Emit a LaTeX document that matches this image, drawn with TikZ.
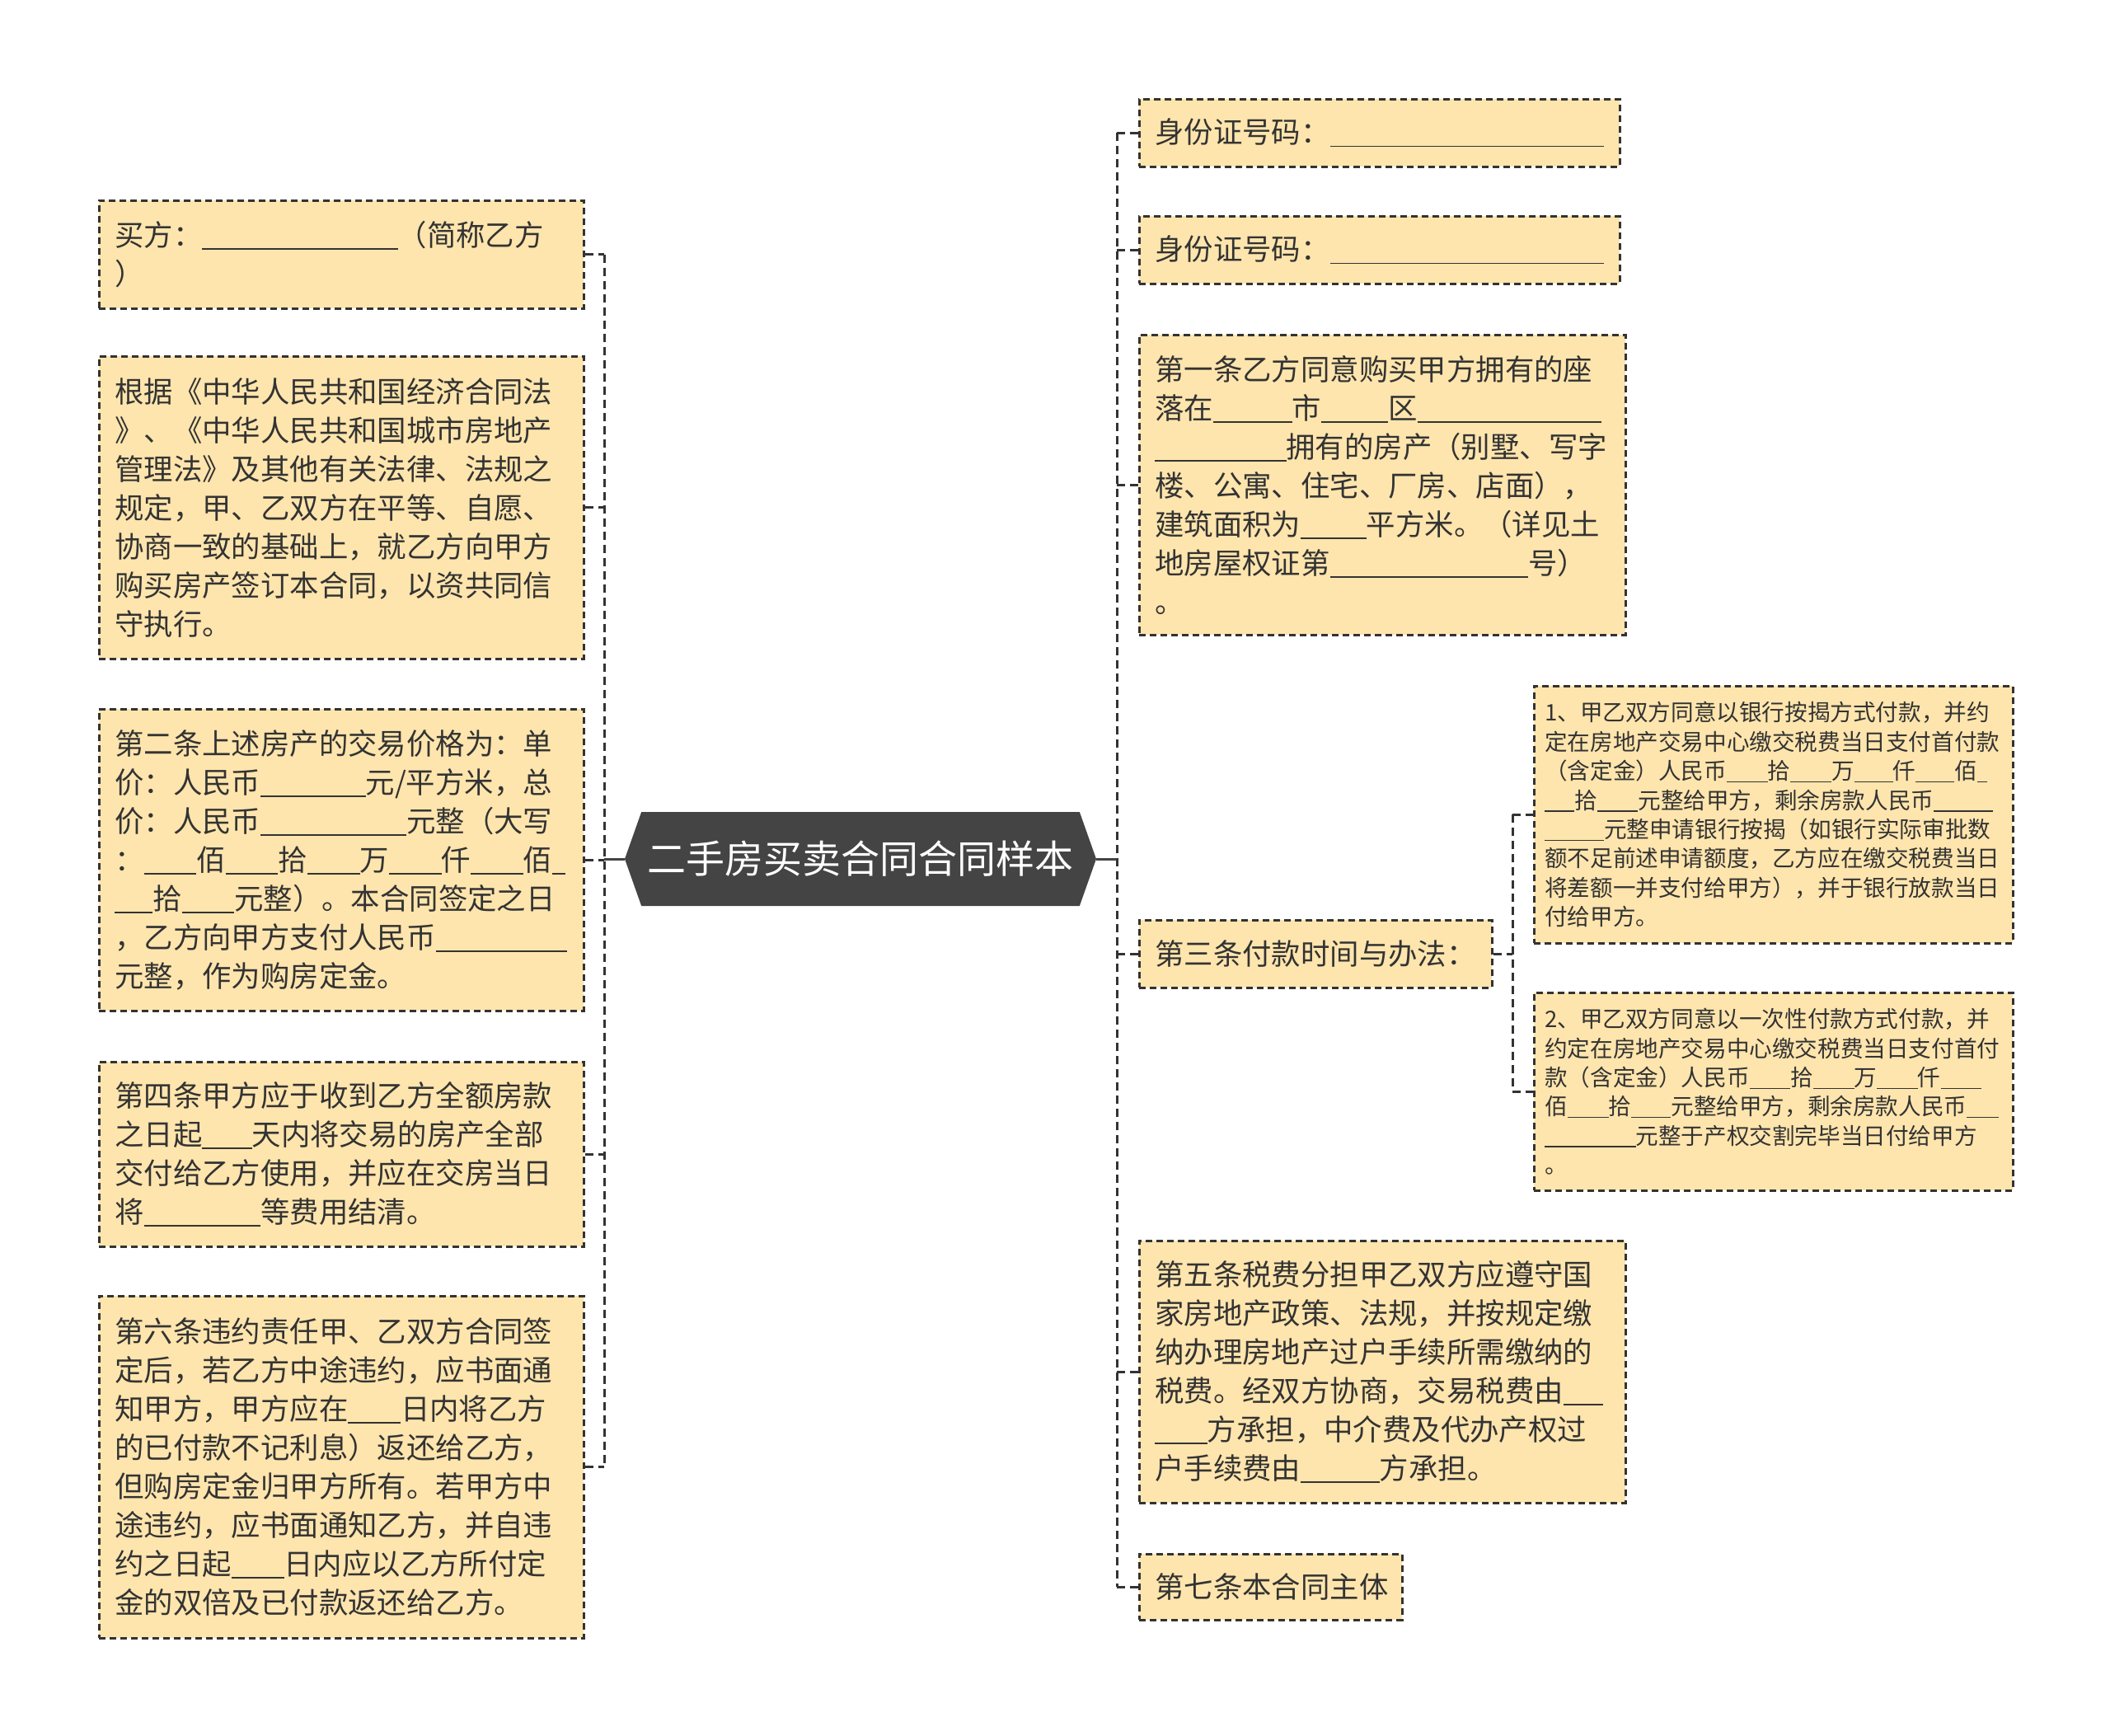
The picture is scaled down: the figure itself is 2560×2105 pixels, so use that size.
\documentclass[tikz,border=0pt]{standalone}
\usepackage{fontspec}
\setmainfont{Noto Sans CJK SC}
\usepackage{tikz}
\usetikzlibrary{shapes.symbols}
\definecolor{boxfill}{RGB}{254,229,173}
\definecolor{inkgray}{RGB}{51,51,51}
\definecolor{hubgray}{RGB}{68,68,68}
\newcommand{\blank}[1]{\rule[-0.13em]{#1em}{0.055em}}

\begin{document}
\begin{tikzpicture}[x=1pt, y=-1pt,
		notebox/.style={draw=inkgray, line width=2.5pt, dash pattern=on 8pt off 5pt, fill=boxfill, text=inkgray, align=left, anchor=north west, inner xsep=19pt, inner ysep=0pt, font=\fontsize{35.4}{47}\selectfont},
		subbox/.style={notebox, inner xsep=13pt, text width=555pt, font=\fontsize{27.6}{35.4}\selectfont},
		trunkline/.style={draw=inkgray, line width=3pt, dash pattern=on 10pt off 6pt},
		stemline/.style={draw=hubgray, line width=3pt}]
		\useasboundingbox (0,0) rectangle (2560,2105);

		\node[shape=signal, signal to=west and east, signal pointer angle=141, fill=hubgray, text=white, inner xsep=0pt, minimum width=572pt, minimum height=114pt, font=\fontsize{47}{56}\selectfont] (hub) at (1044,1042) {二手房买卖合同合同样本};

		\node[notebox, text width=550pt, minimum height=131pt] (L1) at (119,242) {买方：\blank{6.7}（简称乙方\\
			）};
		\node[notebox, text width=550pt, minimum height=367pt] (L2) at (119,431) {根据《中华人民共和国经济合同法\\
			》、《中华人民共和国城市房地产\\
			管理法》及其他有关法律、法规之\\
			规定，甲、乙双方在平等、自愿、\\
			协商一致的基础上，就乙方向甲方\\
			购买房产签订本合同，以资共同信\\
			守执行。};
		\node[notebox, text width=550pt, minimum height=366pt] (L3) at (119,859) {第二条上述房产的交易价格为：单\\
			价：人民币\blank{3.6}元/平方米，总\\
			价：人民币\blank{5}元整（大写\\
			：\blank{1.8}佰\blank{1.8}拾\blank{1.8}万\blank{1.8}仟\blank{1.8}佰\blank{0.45}\\
			\blank{1.3}拾\blank{1.8}元整）。本合同签定之日\\
			，乙方向甲方支付人民币\blank{4.5}\\
			元整，作为购房定金。};
		\node[notebox, text width=550pt, minimum height=224pt] (L4) at (119,1287) {第四条甲方应于收到乙方全额房款\\
			之日起\blank{1.7}天内将交易的房产全部\\
			交付给乙方使用，并应在交房当日\\
			将\blank{4}等费用结清。};
		\node[notebox, text width=550pt, minimum height=415pt] (L5) at (119,1571) {第六条违约责任甲、乙双方合同签\\
			定后，若乙方中途违约，应书面通\\
			知甲方，甲方应在\blank{1.8}日内将乙方\\
			的已付款不记利息）返还给乙方，\\
			但购房定金归甲方所有。若甲方中\\
			途违约，应书面通知乙方，并自违\\
			约之日起\blank{1.8}日内应以乙方所付定\\
			金的双倍及已付款返还给乙方。};

		\node[notebox, text width=545pt, minimum height=82pt] (R1) at (1381,119) {身份证号码：\blank{9.4}};
		\node[notebox, text width=545pt, minimum height=82pt] (R2) at (1381,261) {身份证号码：\blank{9.4}};
		\node[notebox, text width=552pt, minimum height=364pt] (R3) at (1381,405) {第一条乙方同意购买甲方拥有的座\\
			落在\blank{2.7}市\blank{2.3}区\blank{6.3}\\
			\blank{4.5}拥有的房产（别墅、写字\\
			楼、公寓、住宅、厂房、店面），\\
			建筑面积为\blank{2.25}平方米。（详见土\\
			地房屋权证第\blank{6.8}号）\\
			。};
		\node[notebox, text width=390pt, minimum height=82pt] (R4) at (1381,1115) {第三条付款时间与办法：};
		\node[notebox, text width=552pt, minimum height=318pt] (R5) at (1381,1504) {第五条税费分担甲乙双方应遵守国\\
			家房地产政策、法规，并按规定缴\\
			纳办理房地产过户手续所需缴纳的\\
			税费。经双方协商，交易税费由\blank{1.35}\\
			\blank{1.8}方承担，中介费及代办产权过\\
			户手续费由\blank{2.7}方承担。};
		\node[notebox, text width=281pt, minimum height=80pt] (R6) at (1381,1884) {第七条本合同主体};

		\node[subbox, minimum height=312pt] (S1) at (1860,831) {1、甲乙双方同意以银行按揭方式付款，并约\\
			定在房地产交易中心缴交税费当日支付首付款\\
			（含定金）人民币\blank{1.8}拾\blank{1.8}万\blank{1.7}仟\blank{1.7}佰\blank{0.45}\\
			\blank{1.3}拾\blank{1.8}元整给甲方，剩余房款人民币\blank{2.6}\\
			\blank{2.6}元整申请银行按揭（如银行实际审批数\\
			额不足前述申请额度，乙方应在缴交税费当日\\
			将差额一并支付给甲方），并于银行放款当日\\
			付给甲方。};
		\node[subbox, minimum height=240pt] (S2) at (1860,1203) {2、甲乙双方同意以一次性付款方式付款，并\\
			约定在房地产交易中心缴交税费当日支付首付\\
			款（含定金）人民币\blank{1.8}拾\blank{1.8}万\blank{1.8}仟\blank{1.8}\\
			佰\blank{1.8}拾\blank{1.75}元整给甲方，剩余房款人民币\blank{1.4}\\
			\blank{4}元整于产权交割完毕当日付给甲方\\
			。};

		\coordinate (lx) at (733,0);
		\coordinate (rx) at (1355,0);
		\coordinate (sx) at (1835,0);

		\draw[trunkline] (L1.east -| lx) -- (L5.east -| lx);
		\foreach \n in {L1,L2,L3,L4,L5}
			\draw[trunkline] (\n.east) -- (\n.east -| lx);
		\draw[stemline] (hub.west) -- (hub.west -| lx);

		\draw[trunkline] (R1.west -| rx) -- (R6.west -| rx);
		\foreach \n in {R1,R2,R3,R4,R5,R6}
			\draw[trunkline] (\n.west -| rx) -- (\n.west);
		\draw[stemline] (hub.east) -- (hub.east -| rx);

		\draw[trunkline] (S1.west -| sx) -- (S2.west -| sx);
		\draw[trunkline] (R4.east) -- (R4.east -| sx);
		\foreach \n in {S1,S2}
			\draw[trunkline] (\n.west -| sx) -- (\n.west);
\end{tikzpicture}
\end{document}
